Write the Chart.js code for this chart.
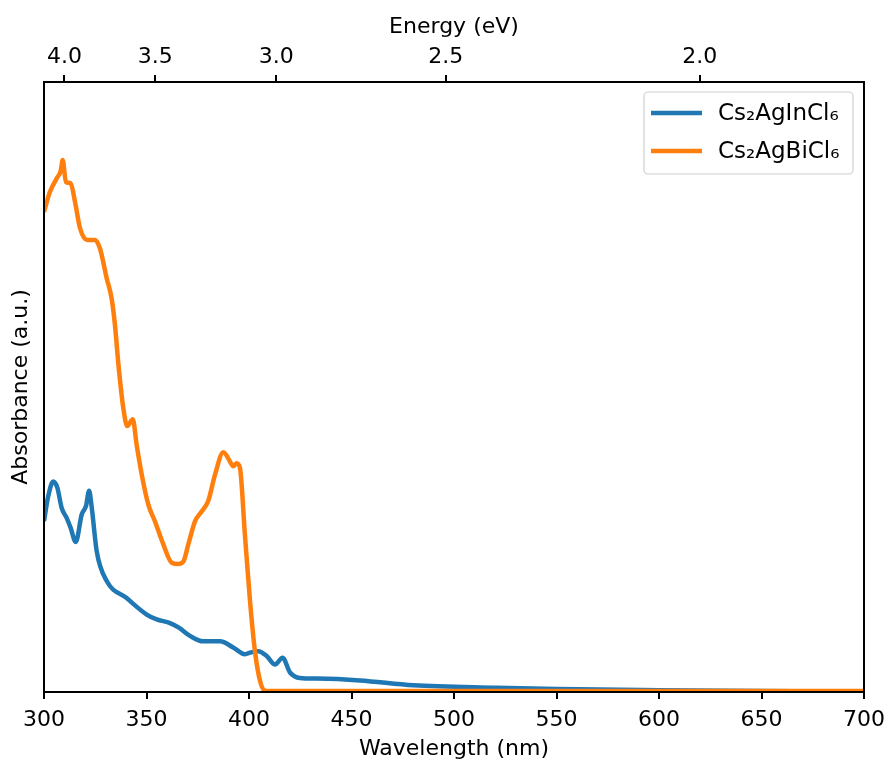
<!DOCTYPE html>
<html>
<head>
<meta charset="utf-8">
<title>Absorbance spectra</title>
<script src="https://cdn.jsdelivr.net/npm/chart.js@4.4.1/dist/chart.umd.min.js"></script>
<style>
  html, body { margin: 0; padding: 0; background: #fff; }
  #chart { display: block; }
</style>
</head>
<body>
<canvas id="chart" width="890" height="762"></canvas>
<script>
/* ================= Data ================= */
const seriesNames = ['Cs\u2082AgInCl\u2086', 'Cs\u2082AgBiCl\u2086'];
const seriesColors = ['#1f77b4', '#ff7f0e'];

// Cs2AgInCl6
const inWavelength = [300, 302, 304.5, 306.5, 308.6, 311.1, 313.0, 315.5, 318.4, 320.5, 322.0, 323.3,
  325.7, 330.6, 340.3, 350.1, 355, 361.5, 366, 371.2, 377.7, 385.9, 392.3, 398.0, 401, 404.5,
  408.6, 412.7, 416.4, 420.0, 424.9, 433, 454.1, 480.1, 520.8, 550, 600, 650, 700];
const inAbsorbance = [28.0, 32.0, 34.5, 33.5, 30.2, 28.5, 26.9, 24.6, 29.1, 30.5, 33.0, 30.2,
  23.1, 18.2, 15.4, 12.7, 11.9, 11.3, 10.5, 9.2, 8.3, 8.3, 7.3, 6.2, 6.5, 6.7,
  5.9, 4.5, 5.6, 3.2, 2.3, 2.2, 1.9, 1.1, 0.7, 0.5, 0.3, 0.15, 0.05];

// Cs2AgBiCl6
const biWavelength = [300, 302.9, 306.2, 308.2, 309.1, 310.7, 313.0, 315.1, 317.6, 321.1, 324.9, 327.3,
  330.6, 333.0, 334.6, 336.3, 338.7, 340.6, 343.3, 345.2, 347.7, 350.9, 354.1, 358.2, 362.3,
  365.5, 368.0, 370.4, 373.7, 376.9, 380.1, 383.4, 387.5, 390.7, 392.3, 394.0, 395.6, 398.0,
  400.5, 402.9, 405.4, 407.8, 410, 450, 500, 550, 600, 650, 700];
const biAbsorbance = [78.7, 82.0, 84.2, 85.5, 87.2, 83.6, 83.4, 80.4, 76.0, 74.1, 74.1, 72.7,
  67.8, 64.5, 60.2, 53.7, 46.5, 43.6, 44.7, 40.5, 35.6, 30.7, 28.0, 24.2, 21.2,
  21.0, 21.4, 24.2, 28.0, 29.6, 31.3, 35.6, 39.3, 37.8, 37.0, 37.5, 36.7, 25.8,
  14.9, 6.7, 1.8, 0.2, 0.15, 0.15, 0.15, 0.15, 0.15, 0.15, 0.15];

// top axis: photon energy ticks (eV), placed at lambda = hc / E
const energyTicks = [4.0, 3.5, 3.0, 2.5, 2.0];
const HC = 1239.84;

function points(xs, ys){
  return xs.map((x, i) => ({x: x, y: ys[i]}));
}

/* ================= Plugins ================= */
const frame = {
  id: 'frame',
  afterDraw(chart){
    const {ctx, chartArea: a} = chart;
    ctx.save();
    ctx.strokeStyle = '#000';
    ctx.lineWidth = 2;
    ctx.strokeRect(a.left, a.top, a.right - a.left, a.bottom - a.top);
    ctx.restore();
  }
};

const boxLegend = {
  id: 'boxLegend',
  afterDraw(chart){
    const ctx = chart.ctx;
    const x = 644, y = 92, w = 209, h = 82;
    ctx.save();
    ctx.beginPath();
    ctx.roundRect(x, y, w, h, 4);
    ctx.fillStyle = 'rgba(255,255,255,0.8)';
    ctx.fill();
    ctx.strokeStyle = '#d0d0d0';
    ctx.lineWidth = 1.2;
    ctx.stroke();
    ctx.font = '23px "DejaVu Sans"';
    ctx.textBaseline = 'middle';
    chart.data.datasets.forEach((ds, i) => {
      const ly = 113 + i * 38;
      ctx.beginPath();
      ctx.moveTo(651, ly);
      ctx.lineTo(702, ly);
      ctx.strokeStyle = ds.borderColor;
      ctx.lineWidth = 4.5;
      ctx.stroke();
      ctx.fillStyle = '#000';
      ctx.fillText(ds.label, 718, ly + 1);
    });
    ctx.restore();
  }
};

/* ================= Chart ================= */
Chart.defaults.font.family = '"DejaVu Sans", sans-serif';
Chart.defaults.color = '#000';

const axisGrid = {drawOnChartArea: false, drawTicks: true, tickLength: 7, color: '#000', lineWidth: 2};
const axisBorder = {display: true, color: '#000', width: 2};

// fixed scale box sizes so the plot area stays at 44..864 x 82..692
function fixHeight(h){
  return s => { s.height = h; s.paddingLeft = 0; s.paddingRight = 0; };
}

new Chart(document.getElementById('chart'), {
  type: 'line',
  data: {
    datasets: [
      {
        label: seriesNames[0],
        data: points(inWavelength, inAbsorbance),
        borderColor: seriesColors[0],
        borderWidth: 4.5,
        pointRadius: 0,
        cubicInterpolationMode: 'monotone',
        order: 1
      },
      {
        label: seriesNames[1],
        data: points(biWavelength, biAbsorbance),
        borderColor: seriesColors[1],
        borderWidth: 4.5,
        pointRadius: 0,
        cubicInterpolationMode: 'monotone',
        order: 0
      }
    ]
  },
  options: {
    responsive: false,
    animation: false,
    layout: {padding: {left: 0, right: 26, top: 0, bottom: 0}},
    plugins: {legend: {display: false}, tooltip: {enabled: false}},
    scales: {
      x: {
        type: 'linear',
        position: 'bottom',
        min: 300, max: 700,
        ticks: {stepSize: 50, font: {size: 22}, padding: 8, maxRotation: 0},
        grid: axisGrid,
        border: axisBorder,
        title: {display: true, text: 'Wavelength (nm)', font: {size: 22}, padding: {top: 0, bottom: 0}},
        afterFit: fixHeight(70)
      },
      xTop: {
        type: 'linear',
        position: 'top',
        min: 300, max: 700,
        afterBuildTicks(s){ s.ticks = energyTicks.map(e => ({value: HC / e})); },
        ticks: {
          font: {size: 22}, padding: 5, maxRotation: 0, autoSkip: false,
          callback: (v, i) => energyTicks[i].toFixed(1)
        },
        grid: axisGrid,
        border: axisBorder,
        title: {display: true, text: 'Energy (eV)', font: {size: 22}, padding: {top: 14, bottom: 0}},
        afterFit: fixHeight(82)
      },
      y: {
        type: 'linear',
        position: 'left',
        min: 0, max: 100,
        ticks: {display: false},
        grid: {display: false},
        border: axisBorder,
        title: {display: true, text: 'Absorbance (a.u.)', font: {size: 22}, padding: {top: 8, bottom: 0}},
        afterFit(s){ s.width = 44; }
      }
    }
  },
  plugins: [frame, boxLegend]
});
</script>
</body>
</html>
